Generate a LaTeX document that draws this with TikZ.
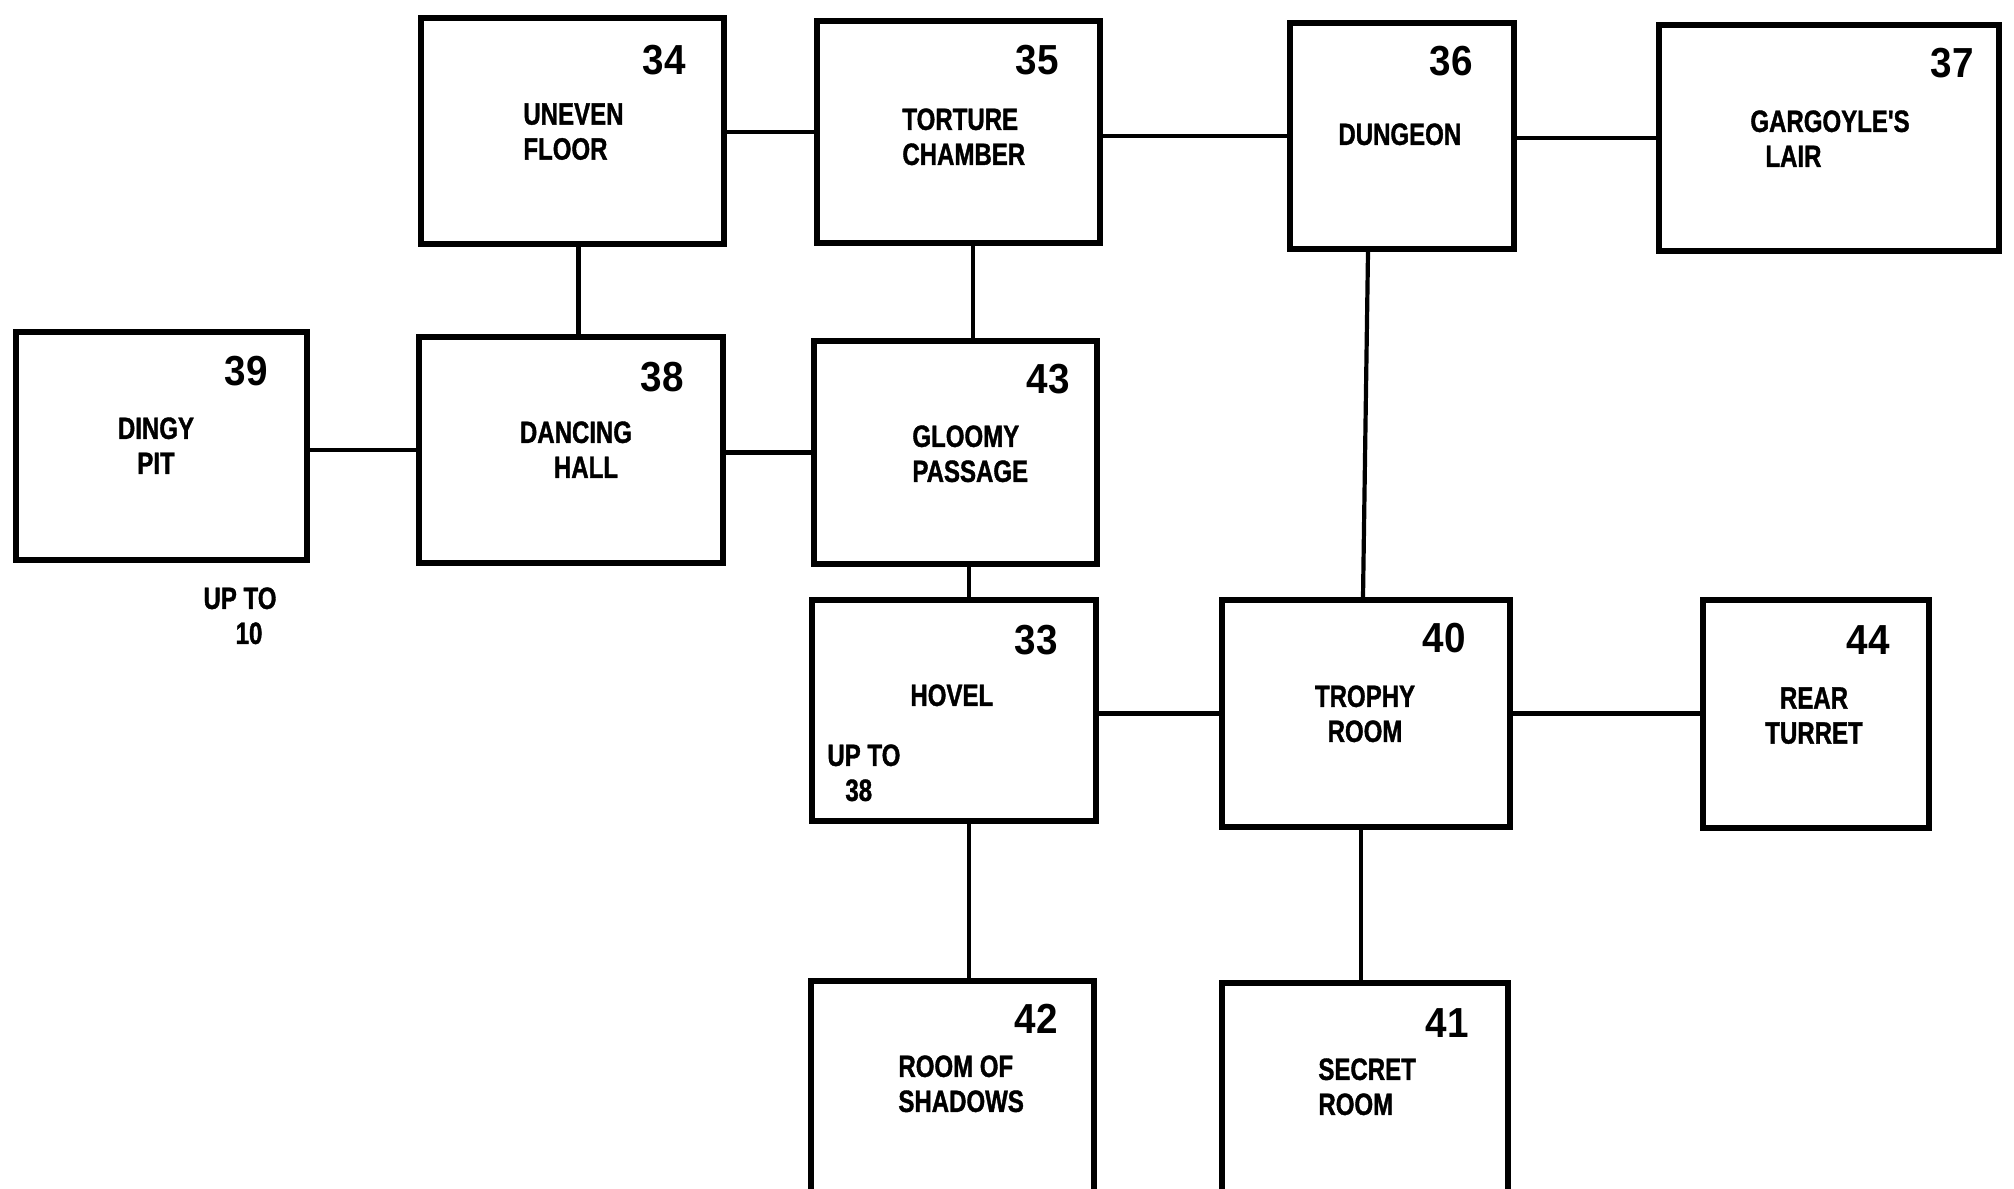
\documentclass[tikz,border=0pt]{standalone}
\usepackage{fontspec}
\newfontfamily\labfont[FakeStretch=0.78, BoldFeatures={FakeBold=1.2}]{Liberation Sans}
\newfontfamily\numfont[FakeStretch=0.92]{Liberation Sans}
\begin{document}
\begin{tikzpicture}[x=0.5pt,y=-0.5pt,
  room/.style={draw, line width=2.8pt, inner sep=0pt, fill=none},
  link/.style={line width=2.1pt},
  lab/.style={font=\labfont\bfseries\fontsize{15.4}{17.5}\selectfont, inner sep=0pt, anchor=north west, align=left},
  labc/.style={lab, anchor=north, align=center},
  num/.style={font=\numfont\bfseries\fontsize{21}{24}\selectfont, inner sep=0pt, anchor=north east}]
\useasboundingbox (0,0) rectangle (2014,1189);
\clip (0,0) rectangle (2014,1189);
\fill[white] (0,0) rectangle (2014,1189);
% rooms
\node[room, minimum width=151.5pt, minimum height=113pt] (b34) at (572.5,131) {};
\node[room, minimum width=141.5pt, minimum height=111pt] (b35) at (958.5,132) {};
\node[room, minimum width=112pt, minimum height=113pt] (b36) at (1402,136) {};
\node[room, minimum width=170pt, minimum height=113pt] (b37) at (1829,138) {};
\node[room, minimum width=145.5pt, minimum height=114pt] (b39) at (161.5,446) {};
\node[room, minimum width=152pt, minimum height=113pt] (b38) at (571,450) {};
\node[room, minimum width=141.5pt, minimum height=111.5pt] (b43) at (955.5,452.5) {};
\node[room, minimum width=142pt, minimum height=110.5pt] (b33) at (954,710.5) {};
\node[room, minimum width=144pt, minimum height=113.5pt] (b40) at (1366,713.5) {};
\node[room, minimum width=113pt, minimum height=114pt] (b44) at (1816,714) {};
\node[room, minimum width=141.5pt, minimum height=112pt] (b42) at (952.5,1093) {};
\node[room, minimum width=143pt, minimum height=112pt] (b41) at (1365,1095) {};
% numbers
\node[num] (n34) at (686,45) {34};
\node[num] (n35) at (1059,45) {35};
\node[num] (n36) at (1473,46) {36};
\node[num] (n37) at (1974,48) {37};
\node[num] (n39) at (268,356) {39};
\node[num] (n38) at (684,362) {38};
\node[num] (n43) at (1070,364) {43};
\node[num] (n33) at (1058,625) {33};
\node[num] (n40) at (1466,623) {40};
\node[num] (n44) at (1890,625) {44};
\node[num] (n42) at (1058,1004) {42};
\node[num] (n41) at (1469,1008) {41};
% labels
\node[lab] (t34) at (523,103) {UNEVEN\\FLOOR};
\node[lab] (t35) at (902,108) {TORTURE\\CHAMBER};
\node[lab] (t36) at (1338,123) {DUNGEON};
\node[lab] (t37) at (1750,110) {GARGOYLE'S\\\hspace*{7.5pt}LAIR};
\node[labc] (t39) at (156,417) {DINGY\\PIT};
\node[labc] (u39) at (240,587) {UP TO\\\hspace*{9pt}10};
\node[labc] (t38) at (576,421) {DANCING\\\hspace*{10pt}HALL};
\node[lab] (t43) at (912,425) {GLOOMY\\PASSAGE};
\node[lab] (t33) at (910,684) {HOVEL};
\node[lab, align=left] (u33) at (827,744) {UP TO\\\hspace*{9pt}38};
\node[labc] (t40) at (1365,685) {TROPHY\\ROOM};
\node[labc] (t44) at (1814,687) {REAR\\TURRET};
\node[lab] (t42) at (898,1055) {ROOM OF\\SHADOWS};
\node[lab] (t41) at (1318,1058) {SECRET\\ROOM};
% connectors
\draw[link] (b34.east |- b35.west) -- (b35.west);
\draw[link] (b35.east |- b36.west) -- (b36.west);
\draw[link] (b36.east |- b37.west) -- (b37.west);
\draw[link] (b39.east |- b38.west) -- (b38.west);
\draw[link, line width=2.6pt] (b38.east |- b43.west) -- (b43.west);
\draw[link] (b33.east |- b40.west) -- (b40.west);
\draw[link] (b40.east) -- (b44.west |- b40.east);
\draw[link] ([xshift=3pt]b34.south) -- ([xshift=3pt]b34.south |- b38.north);
\draw[link] ([xshift=7.25pt]b35.south) -- ([xshift=7.25pt]b35.south |- b43.north);
\draw[link] ([xshift=6.75pt]b43.south) -- ([xshift=6.75pt]b43.south |- b33.north);
\draw[link] ([xshift=7.5pt]b33.south) -- ([xshift=7.5pt]b33.south |- b42.north);
\draw[link] ([xshift=-17pt]b36.south) -- ([xshift=-1.5pt]b40.north);
\draw[link] ([xshift=-2.5pt]b40.south) -- ([xshift=-2.5pt]b40.south |- b41.north);
\end{tikzpicture}
\end{document}
